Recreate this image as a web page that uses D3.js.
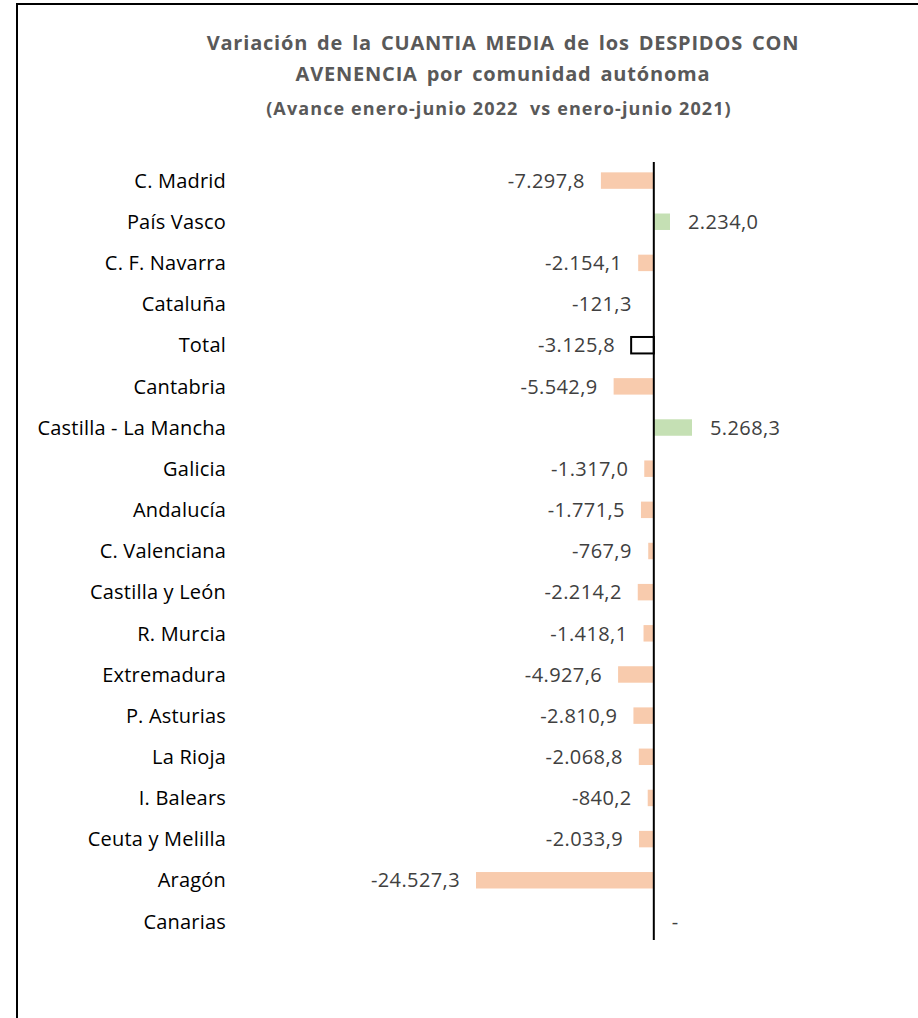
<!DOCTYPE html>
<html>
<head>
<meta charset="utf-8">
<script src="https://cdn.jsdelivr.net/npm/d3@7"></script>
<style>
  body { margin: 0; background: #fff; }
  svg { display: block; }
</style>
</head>
<body>
<svg id="chart" width="918" height="1018"></svg>
<script>
// regions, top to bottom as in the chart
const regions = [
  "C. Madrid", "País Vasco", "C. F. Navarra", "Cataluña", "Total", "Cantabria",
  "Castilla - La Mancha", "Galicia", "Andalucía", "C. Valenciana", "Castilla y León",
  "R. Murcia", "Extremadura", "P. Asturias", "La Rioja", "I. Balears",
  "Ceuta y Melilla", "Aragón", "Canarias"
];

// variation of the average amount (euros); null = no data
const variation = [
  -7297.8, 2234.0, -2154.1, -121.3, -3125.8, -5542.9,
  5268.3, -1317.0, -1771.5, -767.9, -2214.2,
  -1418.1, -4927.6, -2810.9, -2068.8, -840.2,
  -2033.9, -24527.3, null
];

const titleLines = [
  "Variación de la CUANTIA MEDIA de los DESPIDOS CON",
  "AVENENCIA por comunidad autónoma"
];
const subtitle = "(Avance enero-junio 2022  vs enero-junio 2021)";

const svg = d3.select("#chart");
const font = "'Open Sans', sans-serif";

// frame
svg.append("rect")
  .attr("x", 17).attr("y", 4)
  .attr("width", 930).attr("height", 1040)
  .attr("fill", "none")
  .attr("stroke", "#000")
  .attr("stroke-width", 2);

// title
svg.selectAll(".title")
  .data(titleLines)
  .enter().append("text")
  .attr("x", 503)
  .attr("y", (d, i) => 50 + i * 31)
  .attr("text-anchor", "middle")
  .attr("font-family", font)
  .attr("font-weight", "bold")
  .attr("font-size", 20)
  .attr("letter-spacing", 0.8)
  .attr("word-spacing", 3)
  .attr("fill", "#595959")
  .text(d => d);

svg.append("text")
  .attr("x", 499).attr("y", 115)
  .attr("text-anchor", "middle")
  .attr("font-family", font)
  .attr("font-weight", "bold")
  .attr("font-size", 18)
  .attr("letter-spacing", 1.1)
  .attr("fill", "#595959")
  .style("white-space", "pre")
  .text(subtitle);

const data = regions.map((r, i) => ({ region: r, value: variation[i] }));

const x = d3.scaleLinear()
  .domain([-24527.3, 5268.3])
  .range([476, 692]);

const y = d3.scaleBand()
  .domain(regions)
  .range([160, 942])
  .paddingInner(0.6)
  .paddingOuter(0.3);

const fmt = v => {
  const s = d3.format(",.1f")(Math.abs(v)).replace(/,/g, "X").replace(".", ",").replace(/X/g, ".");
  return (v < 0 ? "-" : "") + s;
};

const fillFor = d => d.region === "Total" ? "none" : (d.value < 0 ? "#f8cbad" : "#c5e0b4");

// bars
svg.selectAll(".bar")
  .data(data.filter(d => d.value !== null))
  .enter().append("rect")
  .attr("x", d => x(Math.min(0, d.value)))
  .attr("y", d => y(d.region))
  .attr("width", d => Math.abs(x(d.value) - x(0)))
  .attr("height", y.bandwidth())
  .attr("fill", fillFor)
  .attr("stroke", d => d.region === "Total" ? "#000" : "none")
  .attr("stroke-width", 2);

// zero axis
svg.append("line")
  .attr("x1", x(0)).attr("x2", x(0))
  .attr("y1", 162).attr("y2", 940)
  .attr("stroke", "#000")
  .attr("stroke-width", 2);

// category labels
svg.selectAll(".cat")
  .data(data)
  .enter().append("text")
  .attr("x", 226)
  .attr("y", d => y(d.region) + y.bandwidth() / 2)
  .attr("dy", "0.36em")
  .attr("text-anchor", "end")
  .attr("font-family", font)
  .attr("font-size", 20)
  .attr("letter-spacing", 0.2)
  .attr("fill", "#000")
  .text(d => d.region);

// value labels
svg.selectAll(".val")
  .data(data)
  .enter().append("text")
  .attr("x", d => {
    if (d.value === null) return x(0) + 18;
    if (d.value < 0) return Math.min(x(d.value), x(0) - 6) - 16;
    return x(d.value) + 18;
  })
  .attr("y", d => y(d.region) + y.bandwidth() / 2)
  .attr("dy", "0.36em")
  .attr("text-anchor", d => d.value !== null && d.value < 0 ? "end" : "start")
  .attr("font-family", font)
  .attr("font-size", 20)
  .attr("letter-spacing", 0.4)
  .attr("fill", "#404040")
  .text(d => d.value === null ? "-" : fmt(d.value));
</script>
</body>
</html>
